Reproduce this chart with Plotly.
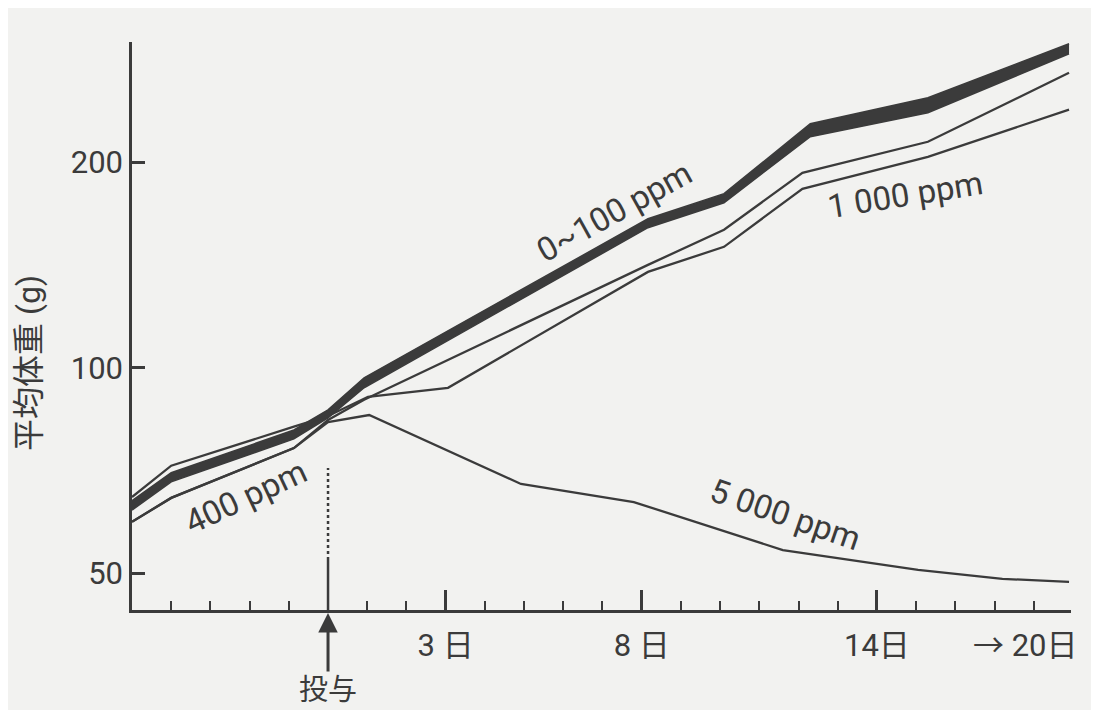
import math
import plotly.graph_objects as go

# ---- data ----
# x = days relative to dosing (投与 = day 0); last point is the "20日" reading
days_band = [-5, -4, -0.87, 0, 0.92, 8.16, 10.1, 12.3, 15.3, 18.9]
band_upper = [63.9, 70.2, 81.1, 86.8, 96.7, 165.3, 179.9, 227.7, 248.6, 298.3]
band_lower = [61.9, 68.1, 78.7, 84.5, 93.5, 160.4, 174.5, 218.0, 236.3, 288.4]

days_400 = [-5, -4, -0.87, 0, 0.92, 8.16, 10.1, 12.1, 15.3, 18.9]
w_400 = [59.5, 64.5, 76.3, 83.9, 89.8, 141.5, 159.3, 193.0, 214.3, 270.5]

days_1000 = [-5, -4, -0.87, 0, 1.02, 3.06, 8.16, 10.1, 12.1, 15.3, 18.9]
w_1000 = [64.7, 71.9, 82.0, 85.0, 90.7, 93.5, 138.2, 150.4, 182.9, 203.7, 238.8]

days_5000 = [-5, -4, -0.87, 0, 1.05, 4.92, 7.8, 11.6, 15.05, 17.2, 18.9]
w_5000 = [59.5, 64.5, 76.3, 83.3, 85.3, 67.6, 63.6, 54.1, 50.6, 49.1, 48.6]

x_tickvals = [3, 8, 14]
x_ticktext = ["3 日", "8 日", "14日"]
x_minor = list(range(-4, 19))
y_tickvals = [50, 100, 200]
y_ticktext = ["50", "100", "200"]

INK = "#3b3b3b"
BG = "#f2f2f0"
FONT = "Roboto, 'Noto Sans CJK JP', sans-serif"

fig = go.Figure()
fig.add_trace(go.Scatter(x=days_band, y=band_lower, mode="lines",
                         line=dict(color=INK, width=1.5), hoverinfo="skip", showlegend=False))
fig.add_trace(go.Scatter(x=days_band, y=band_upper, mode="lines", fill="tonexty", fillcolor=INK,
                         line=dict(color=INK, width=1.5), name="0~100 ppm", showlegend=False))
for xs, ys, nm in [(days_400, w_400, "400 ppm"), (days_1000, w_1000, "1 000 ppm"),
                   (days_5000, w_5000, "5 000 ppm")]:
    fig.add_trace(go.Scatter(x=xs, y=ys, mode="lines", line=dict(color=INK, width=2.3),
                             name=nm, showlegend=False))

ymin, ymax = 44.2, 300

# page body has an 8px margin: figure is sized so the plot lands where the reference's does
fig.update_layout(
    width=1091, height=702,
    margin=dict(l=124, r=28, t=34, b=100),
    paper_bgcolor=BG, plot_bgcolor=BG,
    font=dict(family=FONT, color=INK),
    xaxis=dict(range=[-5, 18.95], showline=True, linecolor=INK, linewidth=2.5,
               showgrid=False, zeroline=False, ticks="inside", tickvals=x_tickvals,
               ticktext=x_ticktext, ticklen=20, tickwidth=2.5, tickcolor=INK,
               tickfont=dict(size=31, family=FONT, color=INK), ticklabelstandoff=6,
               minor=dict(tickvals=x_minor, ticks="inside", ticklen=9, tickwidth=2,
                          tickcolor=INK, showgrid=False)),
    yaxis=dict(type="log", range=[math.log10(ymin), math.log10(ymax)], showline=True,
               linecolor=INK, linewidth=2.5, showgrid=False, zeroline=False,
               ticks="inside", tickvals=y_tickvals, ticktext=y_ticktext, ticklen=13,
               tickwidth=2.5, tickcolor=INK, tickfont=dict(size=31, family=FONT, color=INK),
               ticklabelstandoff=0),
)

# dosing marker line
fig.add_shape(type="line", xref="x", yref="paper", x0=0, x1=0, y0=0, y1=0.088,
              line=dict(color=INK, width=2.5))
fig.add_shape(type="line", xref="x", yref="paper", x0=0, x1=0, y0=0.088, y1=0.25,
              line=dict(color=INK, width=2.5, dash="3px,3px"))

fig.add_annotation(x=0, y=0, xref="x", yref="paper", text="投与", showarrow=True,
                   ax=0, ay=80, arrowhead=2, arrowsize=1.3, arrowwidth=3, arrowcolor=INK,
                   standoff=3, font=dict(size=29, family=FONT, color=INK))
fig.add_annotation(x=17.8, y=-0.062, xref="x", yref="paper", text="→ 20日", showarrow=False,
                   font=dict(size=31, family=FONT, color=INK), yanchor="middle", xanchor="center")
fig.add_annotation(x=-0.1097, y=0.435, xref="paper", yref="paper", text="平均体重 (g)",
                   textangle=-90, showarrow=False, xanchor="center", yanchor="middle",
                   font=dict(size=32, family=FONT, color=INK))

labels = [("0~100 ppm", 7.3, 169.2, -29), ("1 000 ppm", 14.74, 179.2, -9),
          ("400 ppm", -2.09, 64.7, -25), ("5 000 ppm", 11.68, 60.9, 19)]
for t, lx, ly, ang in labels:
    fig.add_annotation(x=lx, y=math.log10(ly), xref="x", yref="y", text=t, showarrow=False,
                       textangle=ang, font=dict(size=33, family=FONT, color=INK))

fig.write_html("out.html")
